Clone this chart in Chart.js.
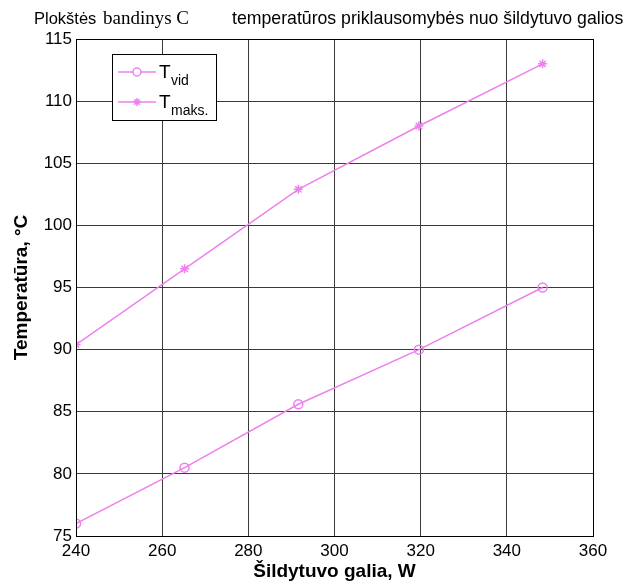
<!DOCTYPE html>
<html>
<head>
<meta charset="utf-8">
<script src="https://cdn.jsdelivr.net/npm/chart.js@4/dist/chart.umd.min.js"></script>
<style>
  html, body { margin: 0; padding: 0; background: #fff; }
  #wrap { width: 628px; height: 584px; }
</style>
</head>
<body>
<div id="wrap"><canvas id="chart" width="628" height="584"></canvas></div>
<script>
// heater power, W
const powerVid = [240, 265.2, 291.6, 319.6, 348.3];
const powerMaks = [240, 265.2, 291.6, 319.6, 348.3];
// temperatures, deg C
const tempVid = [76.0, 80.5, 85.6, 90.0, 95.0];
const tempMaks = [90.4, 96.5, 102.9, 108.0, 113.0];

const seriesNames = ['vid', 'maks.'];
const titleParts = ['Plokštės', 'bandinys C', 'temperatūros priklausomybės nuo šildytuvo galios'];
const xTitle = 'Šildytuvo galia, W';
const yTitle = 'Temperatūra, °C';

const lineColor = '#ee80ee';
const gridColor = '#3a3a3a';
const sansFont = '"Liberation Sans", Arial, sans-serif';

function toPoints(xs, ys) {
    return xs.map((x, i) => ({ x: x, y: ys[i] }));
}

// mixed-font title, like the original figure
const titlePlugin = {
    id: 'mixedTitle',
    afterDraw(chart) {
        const ctx = chart.ctx;
        ctx.save();
        ctx.fillStyle = '#000';
        ctx.textBaseline = 'alphabetic';
        ctx.font = '16.5px ' + sansFont;
        ctx.fillText(titleParts[0], 34, 24);
        ctx.font = '19px "Liberation Serif", "Times New Roman", serif';
        ctx.fillText(titleParts[1], 103, 24);
        ctx.font = '17.7px ' + sansFont;
        ctx.fillText(titleParts[2], 232, 24);
        ctx.restore();
    }
};

// plot box + legend with subscripts
const framePlugin = {
    id: 'frameLegend',
    afterDraw(chart) {
        const ctx = chart.ctx;
        const a = chart.chartArea;
        ctx.save();
        ctx.strokeStyle = '#000';
        ctx.lineWidth = 1;
        ctx.strokeRect(a.left + 0.5, a.top + 0.5, a.right - a.left, a.bottom - a.top);

        // legend box
        const bx = 112, by = 54, bw = 104, bh = 66;
        ctx.fillStyle = '#fff';
        ctx.fillRect(bx, by, bw, bh);
        ctx.strokeStyle = '#000';
        ctx.strokeRect(bx + 0.5, by + 0.5, bw, bh);

        chart.data.datasets.forEach((ds, i) => {
            const y = 72 + i * 30;
            ctx.strokeStyle = ds.borderColor;
            ctx.lineWidth = 1.5;
            ctx.beginPath();
            ctx.moveTo(118, y);
            ctx.lineTo(156, y);
            ctx.stroke();
            Chart.helpers.drawPoint(ctx, {
                pointStyle: ds.pointStyle,
                radius: 4,
                borderWidth: 1.5
            }, 137, y);

            ctx.fillStyle = '#000';
            ctx.textBaseline = 'alphabetic';
            ctx.font = '19px ' + sansFont;
            ctx.fillText('T', 159, y + 6);
            ctx.font = '14px ' + sansFont;
            ctx.fillText(seriesNames[i], 171, y + 13);
        });
        ctx.restore();
    }
};

new Chart(document.getElementById('chart'), {
    type: 'line',
    data: {
        datasets: [
            {
                label: 'T vid',
                data: toPoints(powerVid, tempVid),
                borderColor: lineColor,
                backgroundColor: 'transparent',
                borderWidth: 1.5,
                pointStyle: 'circle',
                pointRadius: 4.5,
                pointBorderColor: lineColor,
                pointBackgroundColor: 'transparent',
                pointBorderWidth: 1.5,
                tension: 0
            },
            {
                label: 'T maks.',
                data: toPoints(powerMaks, tempMaks),
                borderColor: lineColor,
                backgroundColor: 'transparent',
                borderWidth: 1.5,
                pointStyle: 'star',
                pointRadius: 4.5,
                pointBorderColor: lineColor,
                pointBackgroundColor: 'transparent',
                pointBorderWidth: 1.5,
                tension: 0
            }
        ]
    },
    options: {
        responsive: false,
        animation: false,
        layout: { padding: { left: 0, top: 39, right: 35, bottom: 0 } },
        plugins: {
            legend: { display: false },
            title: { display: false },
            tooltip: { enabled: false }
        },
        scales: {
            x: {
                type: 'linear',
                min: 240,
                max: 360,
                ticks: {
                    stepSize: 20,
                    color: '#000',
                    padding: 5,
                    font: { family: sansFont, size: 17 }
                },
                grid: { color: gridColor, lineWidth: 1, drawTicks: false },
                border: { display: false },
                title: {
                    display: true,
                    text: xTitle,
                    color: '#000',
                    padding: { top: 0, bottom: 1 },
                    font: { family: sansFont, size: 19, weight: 'bold' }
                },
                afterFit(scale) { scale.height = 48; }
            },
            y: {
                type: 'linear',
                min: 75,
                max: 115,
                ticks: {
                    stepSize: 5,
                    color: '#000',
                    padding: 4,
                    font: { family: sansFont, size: 17 }
                },
                grid: { color: gridColor, lineWidth: 1, drawTicks: false },
                border: { display: false },
                title: {
                    display: true,
                    text: yTitle,
                    color: '#000',
                    padding: { top: 10, bottom: 0 },
                    font: { family: sansFont, size: 19, weight: 'bold' }
                },
                afterFit(scale) { scale.width = 76; }
            }
        }
    },
    plugins: [titlePlugin, framePlugin]
});
</script>
</body>
</html>
